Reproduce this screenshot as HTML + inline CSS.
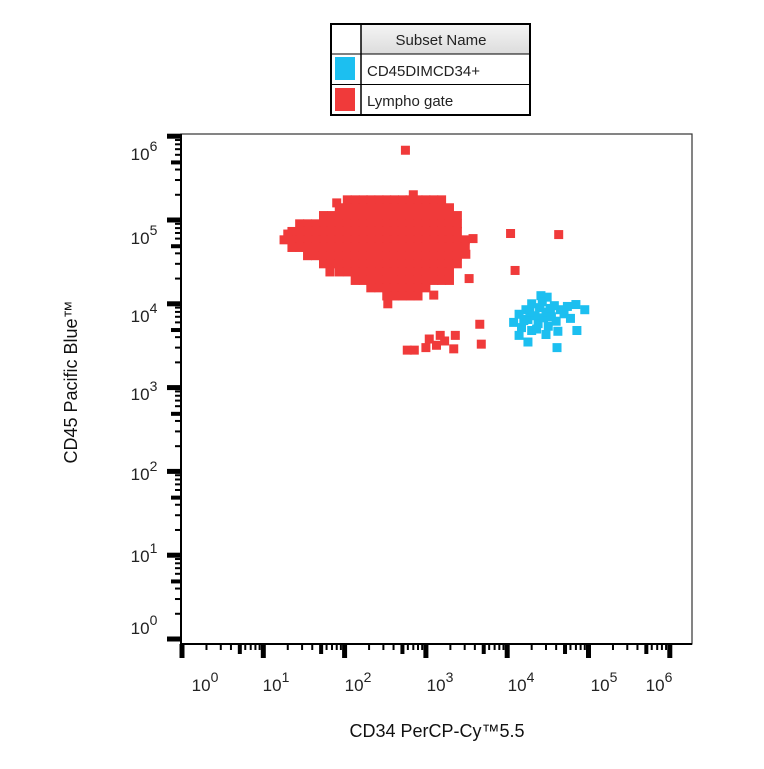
<!DOCTYPE html>
<html><head><meta charset="utf-8">
<style>
html,body{margin:0;padding:0;background:#fff;}
body{width:764px;height:764px;overflow:hidden;font-family:"Liberation Sans",Arial,sans-serif;}
</style></head>
<body>
<svg id="chart" width="764" height="764" viewBox="0 0 764 764" xmlns="http://www.w3.org/2000/svg" font-family="Liberation Sans, Arial, sans-serif">
  <defs>
    <linearGradient id="hdr" x1="0" y1="0" x2="0" y2="1">
      <stop offset="0" stop-color="#f4f4f4"/><stop offset="1" stop-color="#dcdcdc"/>
    </linearGradient>
  </defs>
  <g>
    <rect x="331" y="24" width="199" height="91" fill="#fff" stroke="#000" stroke-width="2"/>
    <rect x="361" y="25" width="168" height="29" fill="url(#hdr)"/>
    <line x1="361" y1="24" x2="361" y2="115" stroke="#000" stroke-width="1.5"/>
    <line x1="331" y1="54" x2="530" y2="54" stroke="#000" stroke-width="1"/>
    <line x1="331" y1="84.5" x2="530" y2="84.5" stroke="#000" stroke-width="1"/>
    <text x="441" y="45" font-size="15" text-anchor="middle" fill="#222">Subset Name</text>
    <rect x="335" y="57" width="20" height="23" fill="#1cbff0"/>
    <text x="367" y="76" font-size="15" fill="#222">CD45DIMCD34+</text>
    <rect x="335" y="88" width="20" height="23" fill="#f03a3a"/>
    <text x="367" y="106" font-size="15" fill="#222">Lympho gate</text>
  </g>
  <g id="axes"></g>
  <g id="points"></g>
  <text x="437" y="737" font-size="18" text-anchor="middle" fill="#111">CD34 PerCP-Cy™5.5</text>
  <text transform="translate(77,382) rotate(-90)" font-size="18" text-anchor="middle" fill="#111">CD45 Pacific Blue™</text>
</svg>
<script>
const xTickExps = [0,1,2,3,4,5,6];
const yTickExps = [0,1,2,3,4,5,6];
// dense core of lympho gate, row by row: [cd45 value, [cd34 values]]
const redCoreRows = [
[174000,[108,135,170,210,265,330,410,515,640,800,1000,1250,1560]],
[140000,[86,108,135,170,210,265,330,410,515,640,800,1000,1250,1560,1950]],
[113000,[55,69,86,108,135,170,210,265,330,410,515,640,800,1000,1250,1560,1950,2440]],
[90000,[28,35,44,55,69,86,108,135,170,210,265,330,410,515,640,800,1000,1250,1560,1950,2440]],
[73000,[22.5,28,35,44,55,69,86,108,135,170,210,265,330,410,515,640,800,1000,1250,1560,1950,2440]],
[58000,[18,22.5,28,35,44,55,69,86,108,135,170,210,265,330,410,515,640,800,1000,1250,1560,1950,2440,3050]],
[47000,[22.5,28,35,44,55,69,86,108,135,170,210,265,330,410,515,640,800,1000,1250,1560,1950,2440,3050]],
[37500,[35,44,55,69,86,108,135,170,210,265,330,410,515,640,800,1000,1250,1560,1950,2440]],
[30000,[55,69,86,108,135,170,210,265,330,410,515,640,800,1000,1250,1560,1950,2440]],
[24000,[86,108,135,170,210,265,330,410,515,640,800,1000,1250,1560,1950]],
[19000,[135,170,210,265,330,410,515,640,800,1000,1250,1560,1950]],
[15500,[210,265,330,410,515,640,800,1000]],
[12400,[330,410,515,640,800]]
];
const redOutliers = [
[560,680000],[3800,60000],[11000,69000],[43000,67000],[12500,25000],[3400,20000],[1250,12700],[340,10000],
[66,24000],[20,68000],[80,160000],[700,200000],[3100,39000],
[4600,5700],[4800,3300],[2300,4200],[1500,4200],[1100,3800],[1350,3200],[2200,2900],[590,2800],[720,2800],[1000,3000],[1700,3600]
];
const bluePoints = [
[12000,6000],[14000,7500],[15000,5200],[17000,8500],[18000,6500],[20000,4800],[20000,10000],[22000,7200],[24000,5800],[25000,9000],
[26000,12500],[28000,6800],[30000,8000],[32000,5400],[35000,7000],[38000,9500],[40000,6200],[45000,8500],[50000,7600],[55000,9300],
[60000,6700],[42000,4700],[30000,4300],[41000,3000],[14000,4200],[18000,3500],[31000,12000],[90000,8500],[70000,9800],[72000,4800],
[16000,6300],[23000,5000],[27000,10500],[19000,8000],[34000,8800]
];
const NS='http://www.w3.org/2000/svg';
const X0=182, XD=81.3, Y0=639, YD=83.8, LEFT=181, TOP=134, RIGHT=692, BOTTOM=644;
function xs(v){return X0+XD*Math.log10(v);}
function ys(v){return Y0-YD*Math.log10(v);}
function mk(tag,attrs,parent){const e=document.createElementNS(NS,tag);for(const k in attrs)e.setAttribute(k,attrs[k]);parent.appendChild(e);return e;}
const axes=document.getElementById('axes');
mk('rect',{x:LEFT,y:TOP,width:RIGHT-LEFT,height:BOTTOM-TOP,fill:'none',stroke:'#333','stroke-width':1.2},axes);
mk('line',{x1:LEFT,y1:TOP,x2:LEFT,y2:BOTTOM+1,stroke:'#000','stroke-width':2},axes);
mk('line',{x1:LEFT,y1:BOTTOM,x2:RIGHT,y2:BOTTOM,stroke:'#000','stroke-width':2},axes);
const xLabelPos=[205,276,358,440,521,604,659];
const yLabelPos=[628,556,474,394,316,238,154];
xTickExps.forEach((e,i)=>{
  const x=xs(Math.pow(10,e));
  const t=mk('rect',{x:x-2.5,y:BOTTOM,width:5,height:14,fill:'#000'},axes);
  
  
  if(e<6){for(let m=2;m<=9;m++){const xm=xs(m*Math.pow(10,e));
    const tm=mk('rect',{x:xm-1,y:BOTTOM,width:m===5?4:2,height:m===5?10:6,fill:'#000'},axes);
    
    }}
  const lab=mk('text',{x:xLabelPos[i],y:691,'font-size':17,'text-anchor':'middle',fill:'#222'},axes);
  
  
  lab.innerHTML='10<tspan dy="-9" font-size="14">'+e+'</tspan>';
});
yTickExps.forEach((e,i)=>{
  const y=ys(Math.pow(10,e));
  const t=mk('rect',{x:LEFT-14,y:y-2.5,width:14,height:5,fill:'#000'},axes);
  
  
  if(e<6){for(let m=2;m<=9;m++){const ym=ys(m*Math.pow(10,e));
    const w=m===5?10:6;
    const tm=mk('rect',{x:LEFT-w,y:ym-1,width:w,height:m===5?4:2,fill:'#000'},axes);
    
    }}
  const lab=mk('text',{x:144,y:yLabelPos[i]+6,'font-size':17,'text-anchor':'middle',fill:'#222'},axes);
  
  
  lab.innerHTML='10<tspan dy="-9" font-size="14">'+e+'</tspan>';
});
const pts=document.getElementById('points');
const S=9;
function redDot(xv,yv){
  const r=mk('rect',{x:xs(xv)-S/2,y:ys(yv)-S/2,width:S,height:S,fill:'#f03a3a'},pts);
  
  
}
redCoreRows.forEach(row=>{row[1].forEach(xv=>redDot(xv,row[0]));});
redOutliers.forEach(p=>redDot(p[0],p[1]));
bluePoints.forEach(p=>{
  const r=mk('rect',{x:xs(p[0])-S/2,y:ys(p[1])-S/2,width:S,height:S,fill:'#1cbff0'},pts);
  
  
});
</script>
</body></html>
